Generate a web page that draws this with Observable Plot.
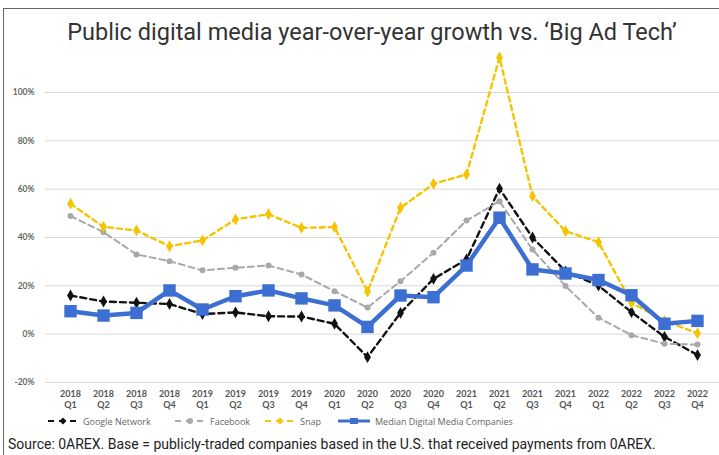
<!DOCTYPE html>
<html><head><meta charset="utf-8">
<script src="https://cdn.jsdelivr.net/npm/d3@7"></script>
<script src="https://cdn.jsdelivr.net/npm/@observablehq/plot@0.6"></script>
<style>
body{margin:0;background:#fff;}
#wrap{position:relative;width:719px;height:455px;overflow:hidden;background:#fff;}
#frame{position:absolute;left:3px;top:8px;width:730px;height:460px;border-left:1.5px solid #666;border-top:1.5px solid #666;box-sizing:border-box;}
#title{position:absolute;left:0;width:744px;top:18px;text-align:center;font:23.5px Roboto,sans-serif;color:#333;line-height:28px;white-space:nowrap;}
#chart{position:absolute;left:0;top:52px;}
#legend{position:absolute;left:0;top:413px;width:719px;height:16px;font:9px "Open Sans",sans-serif;color:#666;}
.li{position:absolute;top:0;display:flex;align-items:center;height:16px;white-space:nowrap;}
.li svg{margin-right:5px;}
#source{position:absolute;left:8px;top:436px;font:14px Roboto,sans-serif;color:#222;white-space:nowrap;}
</style></head>
<body>
<div id="wrap">
  <div id="frame"></div>
  <div id="title">Public digital media year-over-year growth vs. ‘Big Ad Tech’</div>
  <div id="chart"></div>
  <div id="legend"></div>
  <div id="source">Source: 0AREX. Base = publicly-traded companies based in the U.S. that received payments from 0AREX.</div>
</div>
<script>
const quarters = ["2018 Q1","2018 Q2","2018 Q3","2018 Q4","2019 Q1","2019 Q2","2019 Q3","2019 Q4","2020 Q1","2020 Q2","2020 Q3","2020 Q4","2021 Q1","2021 Q2","2021 Q3","2021 Q4","2022 Q1","2022 Q2","2022 Q3","2022 Q4"];
const google   = [16, 13.5, 13, 12.5, 8.3, 9, 7.4, 7.3, 4.3, -9.5, 8.8, 22.9, 30.9, 60.2, 40, 26, 20.1, 9.1, -1.1, -8.6];
const facebook = [48.9, 42.2, 33, 30.2, 26.4, 27.5, 28.4, 24.7, 17.8, 11, 21.9, 33.7, 47, 55, 35, 19.9, 6.8, -0.4, -4, -4.3];
const snap     = [54, 44.4, 42.9, 36.4, 38.8, 47.5, 49.6, 44, 44.3, 17.6, 52.3, 62.2, 66.1, 114.5, 57.1, 42.6, 38.1, 13, 5.5, 0.4];
const median   = [9.5, 7.7, 8.8, 18.1, 10.2, 15.7, 18.1, 14.8, 11.9, 3, 16, 15.3, 28.4, 48.2, 26.8, 25.1, 22.4, 16.1, 4.3, 5.5];
const seriesNames = ["Google Network","Facebook","Snap","Median Digital Media Companies"];
const yTicks = [-20, 0, 20, 40, 60, 80, 100];

const styles = {
  "Google Network": {color:"#111111", width:2.4, dash:"6,4", symbol:"diamond", r:3.6, left:48},
  "Facebook": {color:"#a8a8a8", width:2, dash:"6,4", symbol:"circle", r:3, left:175},
  "Snap": {color:"#f5c400", width:2.4, dash:"5,4", symbol:"diamond", r:3.6, left:265},
  "Median Digital Media Companies": {color:"#3d6fd2", width:4.5, dash:null, symbol:"square", r:7, left:338}
};
const valuesBy = {"Google Network":google, "Facebook":facebook, "Snap":snap, "Median Digital Media Companies":median};

const marks = [
  Plot.gridY(yTicks, {stroke:"#d9d9d9", strokeOpacity:1, strokeWidth:1}),
  Plot.axisY(yTicks, {tickSize:0, tickPadding:11, tickFormat:d=>d+"%", fontSize:8.5, fill:"#666", fontFamily:"Lato, sans-serif", fontWeight:"bold"}),
  Plot.axisX({tickSize:0, tickPadding:7, tickFormat:d=>d.replace(" ","\n"), fontSize:9, lineHeight:1.2, fill:"#555", fontFamily:"Lato, sans-serif", fontWeight:"bold"})
];
for (const name of seriesNames) {
  const s = styles[name];
  const data = quarters.map((q,i)=>({q, v:valuesBy[name][i]}));
  marks.push(Plot.line(data, {x:"q", y:"v", stroke:s.color, strokeWidth:s.width, strokeDasharray:s.dash, curve:"linear"}));
  marks.push(Plot.dot(data, {x:"q", y:"v", fill:s.color, stroke:null, symbol:s.symbol, r:s.r}));
}

const chart = Plot.plot({
  width:719, height:363,
  marginLeft:45, marginRight:0, marginTop:40, marginBottom:33,
  x:{type:"point", domain:quarters, padding:0, insetLeft:17, insetRight:14, label:null},
  y:{domain:[-20,100], label:null},
  style:{background:"transparent", overflow:"visible"},
  marks
});
document.getElementById("chart").appendChild(chart);

// legend
const legend = document.getElementById("legend");
for (const name of seriesNames) {
  const s = styles[name];
  const item = document.createElement("div");
  item.className = "li";
  item.style.left = s.left + "px";
  const w = name.startsWith("Median") ? 32 : 30;
  let marker = "";
  const cx = w/2, cy = 8;
  if (s.symbol === "square") marker = `<rect x="${cx-4}" y="${cy-3}" width="8" height="6" fill="${s.color}"/>`;
  else if (s.symbol === "diamond") marker = `<path d="M${cx} ${cy-3.5}L${cx+3.5} ${cy}L${cx} ${cy+3.5}L${cx-3.5} ${cy}Z" fill="${s.color}"/>`;
  else marker = `<circle cx="${cx}" cy="${cy}" r="3" fill="${s.color}"/>`;
  item.innerHTML = `<svg width="${w}" height="16"><line x1="0" x2="${w}" y1="${cy}" y2="${cy}" stroke="${s.color}" stroke-width="${name.startsWith("Median")?3:2.2}" ${s.dash?`stroke-dasharray="6,5"`:""}/>${marker}</svg><span>${name}</span>`;
  legend.appendChild(item);
}
</script>
</body></html>
